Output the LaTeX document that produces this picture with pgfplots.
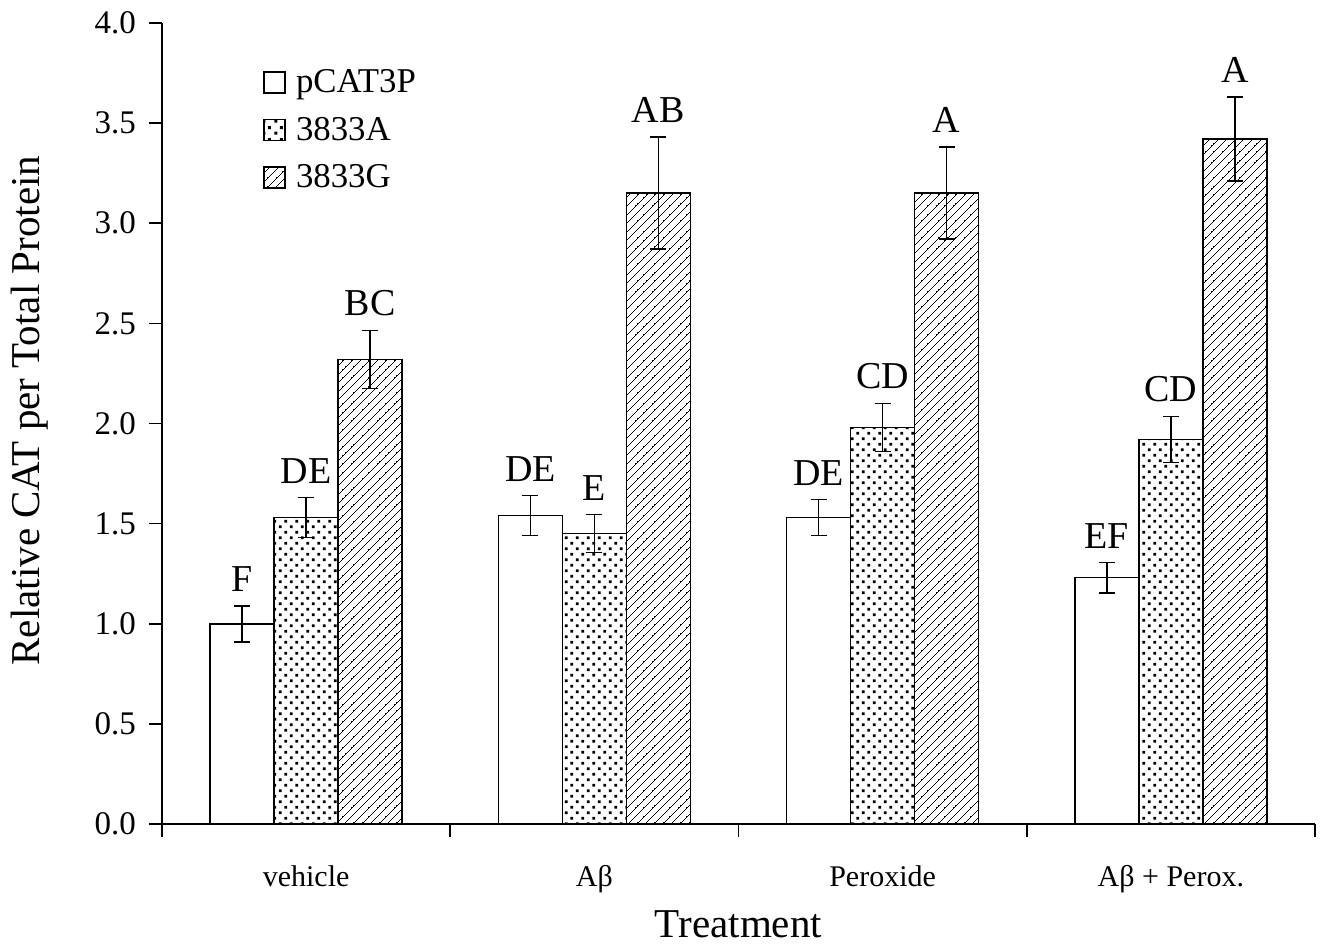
\documentclass[border=0pt]{standalone}
\usepackage{fontspec}
\setmainfont{Liberation Serif}
\usepackage{pgfplots}
\usepackage{pgfplotstable}
\pgfplotsset{compat=1.18}
\usetikzlibrary{patterns.meta}
\tikzdeclarepattern{name=mydots, type=uncolored,
  bounding box={(0pt,0pt) and (5.7pt,5.7pt)}, tile size={(5.7pt,5.7pt)},
  code={\fill (0.2pt,0.2pt) rectangle ++(1.5pt,1.5pt); \fill (3.05pt,3.05pt) rectangle ++(1.5pt,1.5pt);}}
\tikzdeclarepattern{name=mylines, type=uncolored,
  bounding box={(-0.6pt,-0.6pt) and (4.9pt,4.9pt)}, tile size={(4.3pt,4.3pt)},
  line width=1.1pt,
  code={\draw (-0.6pt,-0.6pt) -- (4.9pt,4.9pt);}}
\pgfplotsset{
  mybox/.style={legend image code/.code={\draw[##1, line width=0.8pt] (0pt,-5.25pt) rectangle (10.5pt,5.25pt);}},
  mybar/.style={ybar, bar width=0.222, bar shift=0pt, draw=black, line width=0.8pt, mybox,
    error bars/y dir=both, error bars/y explicit,
    error bars/error bar style={line width=0.8pt, black},
    error bars/error mark options={rotate=90, mark size=4pt, line width=0.8pt, black}},
  mylab/.style={draw=none, mark=none, forget plot,
    nodes near coords, point meta=explicit symbolic,
    nodes near coords style={anchor=south, inner sep=0pt, yshift=7pt, font=\fontsize{19}{21}\selectfont}},
}
\pgfplotstableread{
x y e lab
0 1.00 0.09 F
1 1.54 0.10 DE
2 1.53 0.09 DE
3 1.23 0.075 EF
}\pcat
\pgfplotstableread{
x y e lab
0 1.53 0.10 DE
1 1.45 0.095 E
2 1.98 0.12 CD
3 1.92 0.115 CD
}\tA
\pgfplotstableread{
x y e lab
0 2.32 0.145 BC
1 3.15 0.28 AB
2 3.15 0.23 A
3 3.42 0.21 A
}\tG
\begin{document}
\begin{tikzpicture}
\begin{axis}[name=ax,
  scale only axis, width=576.5pt, height=400.5pt,
  axis lines*=left, axis line style={line width=0.8pt, -},
  xmin=-0.5, xmax=3.5, ymin=0, ymax=4,
  ytick={0,0.5,...,4},
  yticklabel style={font=\fontsize{16.5}{18}\selectfont, xshift=-3pt,
    /pgf/number format/.cd, fixed, precision=1, zerofill, assume math mode=true},
  xtick={-0.5,0.5,1.5,2.5,3.5}, xticklabels={},
  extra x ticks={0,1,2,3},
  extra x tick labels={vehicle, Aβ, Peroxide, Aβ + Perox.},
  extra x tick style={major tick length=0pt, xticklabel style={anchor=base, yshift=-31.5pt, font=\fontsize{15}{17}\selectfont}},
  tick align=outside, major tick length=6.5pt,
  tick style={line width=0.8pt, black},
  ylabel={Relative CAT per Total Protein},
  xlabel={Treatment},
  label style={font=\fontsize{20.5}{23}\selectfont},
  ylabel style={at={(axis description cs:-0.1145,0.516)}, anchor=center},
  xlabel style={at={(axis description cs:0.5,-0.1248)}, anchor=center},
  legend style={draw=none, fill=none, at={(axis description cs:0.0876,0.945)}, anchor=north west,
    font=\fontsize{17.4}{19}\selectfont, row sep=8.75pt, inner sep=0pt,
    nodes={inner sep=1pt},
    /tikz/every odd column/.append style={column sep=4pt}},
  legend cell align=left,
  clip=false,
]
\addplot[mybar, fill=white] table[x expr=\thisrow{x}-0.222, y=y, y error=e] {\pcat};
\addlegendentry{pCAT3P}
\addplot[mybar, pattern=mydots, pattern color=black] table[x=x, y=y, y error=e] {\tA};
\addlegendentry{3833A}
\addplot[mybar, pattern=mylines, pattern color=black] table[x expr=\thisrow{x}+0.222, y=y, y error=e] {\tG};
\addlegendentry{3833G}
\addplot[mylab] table[x expr=\thisrow{x}-0.222, y expr=\thisrow{y}+\thisrow{e}, meta=lab] {\pcat};
\addplot[mylab] table[x=x, y expr=\thisrow{y}+\thisrow{e}, meta=lab] {\tA};
\addplot[mylab] table[x expr=\thisrow{x}+0.222, y expr=\thisrow{y}+\thisrow{e}, meta=lab] {\tG};
\end{axis}
\path (ax.south west) ++(-81pt,-60pt) rectangle ++(661.5pt,472pt);
\end{tikzpicture}
\end{document}
